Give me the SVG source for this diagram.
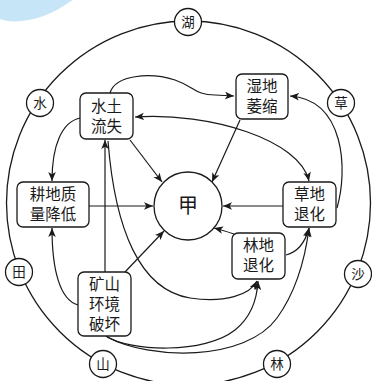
<svg xmlns="http://www.w3.org/2000/svg" width="372" height="381" viewBox="0 0 372 381">
<defs>
<style>
.ring{fill:none;stroke:#1a1a1a;stroke-width:1.3}
.sc{fill:#fff;stroke:#1a1a1a;stroke-width:1.3}
.box{fill:#fff;stroke:#1a1a1a;stroke-width:1.3}
.t{font-family:"Noto Sans CJK SC","Noto Sans CJK JP",sans-serif;font-size:15.5px;fill:#1a1a1a;text-anchor:middle}
.st{font-family:"Noto Sans CJK SC","Noto Sans CJK JP",sans-serif;font-size:13.5px;fill:#1a1a1a;text-anchor:middle}
.c{fill:none;stroke:#1a1a1a;stroke-width:1.2}
</style>
<marker id="ah" viewBox="0 0 10 10" refX="10" refY="5" markerWidth="9" markerHeight="9" markerUnits="userSpaceOnUse" orient="auto-start-reverse">
<path d="M0,0.8 L10,5 L0,9.2 L2.5,5 Z" fill="#1a1a1a"/>
</marker>
</defs>
<rect width="372" height="381" fill="#fff"/>
<path d="M0,0 L73,0 C 60,8 45,19 22,21 C 12,22 5,21 0,19 Z" fill="#c6e6f8"/>
<g id="ring">
<circle class="ring" cx="188.5" cy="203" r="182"/>
</g>
<g id="lake"><circle class="sc" cx="188" cy="22" r="13.5"/><text class="st" x="188" y="27">湖</text></g>
<g id="water"><circle class="sc" cx="40" cy="103" r="13.5"/><text class="st" x="40" y="108">水</text></g>
<g id="grass"><circle class="sc" cx="341" cy="103" r="13.5"/><text class="st" x="341" y="108">草</text></g>
<g id="field"><circle class="sc" cx="19" cy="272" r="13.5"/><text class="st" x="19" y="277">田</text></g>
<g id="sand"><circle class="sc" cx="358" cy="274" r="13.5"/><text class="st" x="358" y="279">沙</text></g>
<g id="mountain"><circle class="sc" cx="103" cy="364" r="13.5"/><text class="st" x="103" y="369">山</text></g>
<g id="forest"><circle class="sc" cx="277" cy="364" r="13.5"/><text class="st" x="277" y="369">林</text></g>
<g id="connectors">
<path class="c" d="M110,93 C 115,75 150,72 175,80 C 195,87 195,95 215,95 L234,96" marker-end="url(#ah)"/>
<path class="c" d="M135,117 C 210,112 300,140 309,181" marker-start="url(#ah)" marker-end="url(#ah)"/>
<path class="c" d="M240,120 L212,182" marker-end="url(#ah)"/>
<path class="c" d="M130,140 L162,182" marker-end="url(#ah)"/>
<path class="c" d="M80,118 C 62,122 52,145 52,181" marker-end="url(#ah)"/>
<path class="c" d="M105,272 L105,140" marker-end="url(#ah)"/>
<path class="c" d="M108,141 C 115,230 140,290 190,298 C 225,303 250,295 257,281" marker-end="url(#ah)"/>
<path class="c" d="M106,336 C 130,352 205,354 235,330 C 250,318 257,300 258,281" marker-end="url(#ah)"/>
<path class="c" d="M107,337 C 150,360 245,362 277,318 C 295,293 305,260 309,228" marker-end="url(#ah)"/>
<path class="c" d="M89,206 L153,206" marker-end="url(#ah)"/>
<path class="c" d="M283,206 L223,206" marker-end="url(#ah)"/>
<path class="c" d="M234,234 C 228,232 222,230 214,228" marker-end="url(#ah)"/>
<path class="c" d="M286,255 C 298,252 305,243 309,228" marker-end="url(#ah)"/>
<path class="c" d="M125,272 L164,231" marker-end="url(#ah)"/>
<path class="c" d="M78,305 C 60,300 52,270 52,228" marker-end="url(#ah)"/>
<path class="c" d="M337,208 C 348,170 345,100 290,96" marker-end="url(#ah)"/>
</g>
<g id="jia"><circle class="sc" cx="188" cy="206" r="34"/><text class="t" x="188" y="213" style="font-size:20px">甲</text></g>
<g id="soil"><rect class="box" x="80" y="93" width="53" height="46" rx="6"/><text class="t" x="106.5" y="112">水土</text><text class="t" x="106.5" y="132">流失</text></g>
<g id="wetland"><rect class="box" x="236" y="74" width="52" height="45" rx="6"/><text class="t" x="262" y="92">湿地</text><text class="t" x="262" y="112">萎缩</text></g>
<g id="farmland"><rect class="box" x="17" y="182" width="72" height="45" rx="6"/><text class="t" x="53" y="200">耕地质</text><text class="t" x="53" y="220">量降低</text></g>
<g id="grassland"><rect class="box" x="283" y="182" width="53" height="45" rx="6"/><text class="t" x="309.5" y="200">草地</text><text class="t" x="309.5" y="220">退化</text></g>
<g id="woodland"><rect class="box" x="232" y="233" width="53" height="46" rx="6"/><text class="t" x="258.5" y="251">林地</text><text class="t" x="258.5" y="271">退化</text></g>
<g id="mine"><rect class="box" x="78" y="272" width="53" height="64" rx="6"/><text class="t" x="104.5" y="290">矿山</text><text class="t" x="104.5" y="310">环境</text><text class="t" x="104.5" y="330">破坏</text></g>
</svg>
